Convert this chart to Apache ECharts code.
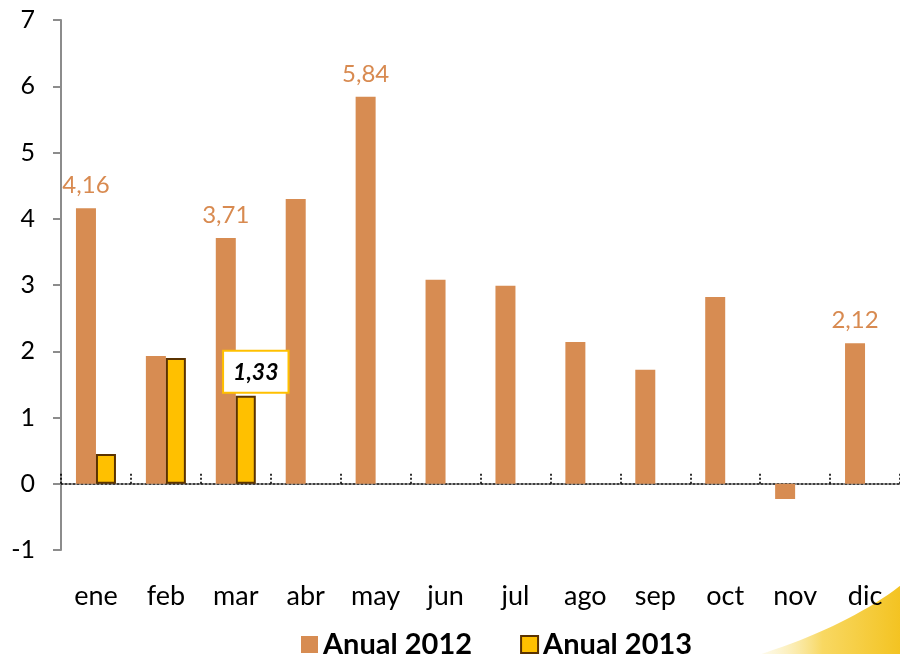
<!DOCTYPE html>
<html>
<head>
<meta charset="utf-8">
<script src="https://cdn.jsdelivr.net/npm/echarts@6/dist/echarts.min.js"></script>
<style>
  html, body { margin: 0; padding: 0; background: #fff; }
  #chart { width: 900px; height: 654px; }
</style>
</head>
<body>
<div id="chart"></div>
<script>
// datos
const meses = ["ene", "feb", "mar", "abr", "may", "jun", "jul", "ago", "sep", "oct", "nov", "dic"];
const anual2012 = [4.16, 1.93, 3.71, 4.30, 5.84, 3.08, 2.99, 2.14, 1.72, 2.82, -0.23, 2.12];
const anual2013 = [0.45, 1.90, 1.33, "-", "-", "-", "-", "-", "-", "-", "-", "-"];
const etiquetas2012 = [0, 2, 4, 11]; // meses con etiqueta
const etiquetas2013 = [2];

const fmt = v => v.toFixed(2).replace(".", ",");
const fuente = "Lato";

// curva decorativa amarilla (esquina inferior derecha)
const curva = [];
for (let t = 0; t <= 1.0001; t += 0.05) {
  const x = (1 - t) * (1 - t) * 755 + 2 * (1 - t) * t * 850 + t * t * 905;
  const y = (1 - t) * (1 - t) * 656 + 2 * (1 - t) * t * 626 + t * t * 582;
  curva.push([x, y]);
}
curva.push([905, 656]);

const chart = echarts.init(document.getElementById("chart"));

const option = {
  animation: false,
  textStyle: { fontFamily: fuente },
  grid: { left: 61, top: 20, width: 840, bottom: 104 },
  legend: {
    top: 625,
    left: 296,
    itemWidth: 17,
    itemHeight: 17,
    itemGap: 48,
    textStyle: { fontSize: 29, fontWeight: "bold", color: "#000", fontFamily: fuente },
    data: [
      { name: "Anual 2012", icon: "rect" },
      { name: "Anual 2013", icon: "rect" }
    ]
  },
  xAxis: [
    {
      // línea de cero punteada
      type: "category",
      data: meses,
      position: "top",
      axisLine: { onZero: true, lineStyle: { color: "#000", type: [2, 2], width: 1.6 } },
      axisTick: { show: true, length: 10, lineStyle: { color: "#000", type: [2, 2], width: 1.6 } },
      axisLabel: { show: false }
    },
    {
      // etiquetas de meses
      type: "category",
      data: meses,
      position: "bottom",
      axisLine: { show: false, onZero: false },
      axisTick: { show: false },
      axisLabel: { fontSize: 27, color: "#000", margin: 33, fontFamily: fuente }
    }
  ],
  yAxis: {
    type: "value",
    min: -1,
    max: 7,
    interval: 1,
    axisLine: { show: true, lineStyle: { color: "#8c8c8c", width: 2 } },
    axisTick: { show: true, length: 8, lineStyle: { color: "#8c8c8c", width: 2 } },
    splitLine: { show: false },
    axisLabel: { fontSize: 25, color: "#000", margin: 26, fontFamily: fuente }
  },
  series: [
    {
      name: "Anual 2012",
      type: "bar",
      xAxisIndex: 0,
      barWidth: 20,
      barGap: "0%",
      itemStyle: { color: "#D78C52" },
      data: anual2012.map((v, i) => ({
        value: v,
        label: {
          show: etiquetas2012.includes(i),
          position: "top",
          distance: 11,
          formatter: p => fmt(p.value),
          fontSize: 24,
          color: "#D88A50",
          fontFamily: fuente
        }
      }))
    },
    {
      name: "Anual 2013",
      type: "bar",
      xAxisIndex: 0,
      barWidth: 20,
      itemStyle: { color: "#FFC000", borderColor: "#5A3200", borderWidth: 2 },
      data: anual2013.map((v, i) => ({
        value: v,
        label: {
          show: etiquetas2013.includes(i),
          position: "top",
          distance: 4,
          offset: [10, 0],
          formatter: p => fmt(p.value),
          fontSize: 23,
          fontWeight: "bold",
          fontStyle: "italic",
          color: "#000",
          backgroundColor: "#fff",
          borderColor: "#FFC000",
          borderWidth: 2,
          padding: [9, 9, 8, 9],
          fontFamily: fuente
        }
      }))
    }
  ],
  graphic: [
    {
      type: "polygon",
      z: -10,
      silent: true,
      shape: { points: curva },
      style: {
        fill: {
          type: "linear", x: 0, y: 0, x2: 1, y2: 0,
          colorStops: [
            { offset: 0, color: "rgba(250,240,190,0.2)" },
            { offset: 0.45, color: "#F8D862" },
            { offset: 1, color: "#F3C21E" }
          ]
        }
      }
    }
  ]
};

chart.setOption(option);
</script>
</body>
</html>
